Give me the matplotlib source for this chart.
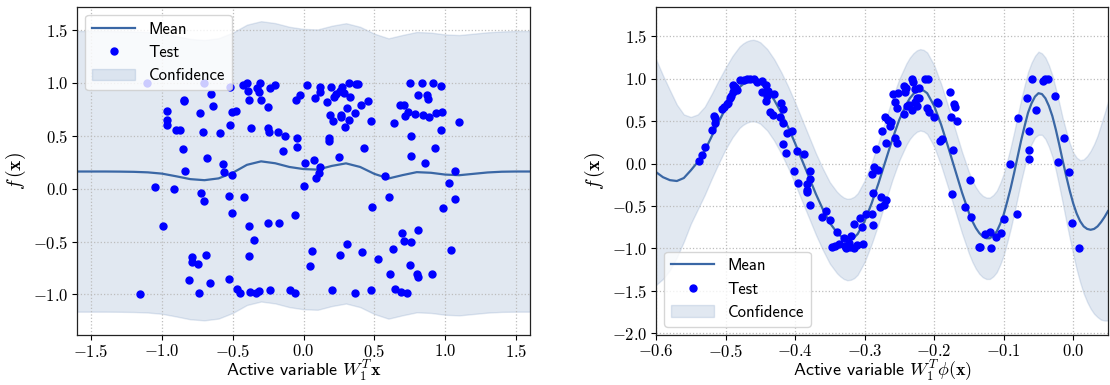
import numpy as np
import matplotlib
matplotlib.use('Agg')
import matplotlib.pyplot as plt
from matplotlib.ticker import FuncFormatter

plt.rcParams['mathtext.fontset'] = 'cm'
plt.rcParams['font.family'] = ['cmss10', 'DejaVu Sans']
plt.rcParams['axes.formatter.use_mathtext'] = True

# ===== left panel: GP on the raw active variable =====
x_left = [-1.6, -1.5, -1.4, -1.3, -1.2, -1.1, -1.0, -0.9, -0.8, -0.7, -0.6,
          -0.5, -0.4, -0.3, -0.2, -0.1, 0.0, 0.1, 0.2, 0.3, 0.4, 0.5, 0.6,
          0.7, 0.8, 0.9, 1.0, 1.1, 1.2, 1.3, 1.4, 1.5, 1.6]
mean_left = [0.162, 0.162, 0.162, 0.161, 0.159, 0.154, 0.142, 0.117, 0.090,
             0.080, 0.097, 0.150, 0.225, 0.258, 0.240, 0.205, 0.185, 0.180,
             0.215, 0.239, 0.205, 0.140, 0.096, 0.128, 0.156, 0.150, 0.133,
             0.127, 0.140, 0.153, 0.160, 0.162, 0.162]
upper_left = [1.490, 1.490, 1.490, 1.488, 1.486, 1.480, 1.467, 1.442, 1.415,
              1.405, 1.422, 1.475, 1.550, 1.583, 1.565, 1.530, 1.510, 1.505,
              1.540, 1.564, 1.530, 1.465, 1.421, 1.453, 1.481, 1.475, 1.458,
              1.452, 1.465, 1.478, 1.486, 1.490, 1.490]
lower_left = [-1.163, -1.163, -1.163, -1.164, -1.166, -1.171, -1.183, -1.208,
              -1.235, -1.245, -1.228, -1.175, -1.100, -1.067, -1.085, -1.120,
              -1.140, -1.145, -1.110, -1.086, -1.120, -1.185, -1.229, -1.197,
              -1.169, -1.175, -1.192, -1.198, -1.185, -1.172, -1.165, -1.163,
              -1.163]

test_x_left = [-1.154, -1.103, -1.047, -0.992, -0.966, -0.966, -0.961, -0.916,
               -0.903, -0.873, -0.850, -0.842, -0.842, -0.840, -0.810, -0.789,
               -0.789, -0.744, -0.736, -0.729, -0.723, -0.711, -0.700, -0.706,
               -0.688, -0.683, -0.660, -0.655, -0.643, -0.589, -0.567, -0.559,
               -0.529, -0.529, -0.521, -0.516, -0.506, -0.508, -0.503, -0.478,
               -0.470, -0.448, -0.428, -0.422, -0.402, -0.395, -0.385, -0.385,
               -0.382, -0.377, -0.370, -0.347, -0.336, -0.326, -0.316, -0.306,
               -0.314, -0.299, -0.250, -0.248, -0.253, -0.245, -0.240, -0.235,
               -0.202, -0.177, -0.172, -0.144, -0.134, -0.099, -0.061, -0.061,
               -0.056, -0.048, -0.048, -0.025, 0.000, 0.008, 0.025, 0.048,
               0.063, 0.073, 0.078, 0.086, 0.109, 0.114, 0.116, 0.119, 0.169,
               0.177, 0.180, 0.187, 0.195, 0.202, 0.210, 0.218, 0.230, 0.256,
               0.253, 0.258, 0.266, 0.268, 0.273, 0.286, 0.291, 0.304, 0.309,
               0.319, 0.324, 0.326, 0.364, 0.367, 0.374, 0.385, 0.407, 0.415,
               0.425, 0.458, 0.476, 0.478, 0.486, 0.529, 0.577, 0.602, 0.612,
               0.632, 0.637, 0.645, 0.678, 0.686, 0.693, 0.708, 0.713, 0.718,
               0.731, 0.741, 0.749, 0.749, 0.756, 0.759, 0.761, 0.787, 0.799,
               0.810, 0.812, 0.812, 0.840, 0.845, 0.855, 0.870, 0.878, 0.885,
               0.906, 0.916, 0.926, 0.933, 0.969, 0.974, 0.976, 0.984, 1.025,
               1.042, 1.068, 1.070, 1.098]
test_y_left = [-1.000, 1.000, 0.020, -0.353, 0.730, 0.650, 0.600, 0.000,
               0.556, 0.553, 0.378, 0.840, 0.825, 0.170, -0.866, -0.650,
               -0.694, -0.710, -0.990, 0.716, -0.040, 0.540, -0.116, 1.000,
               -0.628, 0.294, -0.890, 0.894, 0.780, 0.530, 0.230, 0.156,
               -0.856, -0.069, 0.606, 0.963, 0.131, 0.725, -0.234, 0.737,
               -0.947, -0.990, 0.984, -0.081, 1.000, 0.919, 0.840, -0.640,
               -0.350, -0.980, 0.575, -0.488, -0.984, 0.947, 0.916, 1.000,
               -0.972, 0.840, -0.328, 0.772, 0.575, 0.534, 0.953, -0.956,
               0.981, 0.531, -0.328, 0.359, 0.500, -0.956, -0.247, -0.987,
               0.840, 0.475, 0.397, 0.884, 0.025, 0.240, 0.981, -0.734,
               -0.594, 0.272, 0.853, 0.097, 0.147, 0.206, 0.916, 0.959, 0.816,
               0.450, 0.475, 0.697, 0.963, -0.956, 0.640, 0.869, 0.894, 0.922,
               0.300, -0.631, 0.694, 0.675, 0.959, 0.900, 0.584, -0.519, 0.759,
               0.653, 1.000, 0.869, -0.987, 0.713, 0.988, 0.988, 0.791, -0.597,
               0.384, 0.825, 0.644, -0.962, -0.175, -0.663, 0.119, -0.081,
               -0.806, -0.566, 0.625, -0.950, 0.788, -0.981, -0.422, -0.494,
               0.788, 0.684, -0.990, 0.722, 1.000, -0.719, -0.509, 0.306, 0.500,
               0.703, -0.806, -0.831, -0.388, 0.884, 1.000, 0.697, 0.244, 0.884,
               0.844, 0.678, -0.806, 1.000, 0.388, 0.716, 0.556, 0.975, 0.722,
               -0.187, 0.053, -0.584, 0.166, -0.100, 0.631]

# ===== right panel: GP on the kernel active variable =====
x_right = [-0.60, -0.59, -0.58, -0.57, -0.56, -0.55, -0.54, -0.53, -0.52,
           -0.51, -0.50, -0.49, -0.48, -0.475, -0.47, -0.465, -0.46, -0.455,
           -0.45, -0.44, -0.43, -0.42, -0.41, -0.40, -0.39, -0.38, -0.37,
           -0.36, -0.35, -0.34, -0.335, -0.33, -0.325, -0.32, -0.315, -0.31,
           -0.30, -0.29, -0.28, -0.27, -0.26, -0.25, -0.24, -0.235, -0.23,
           -0.225, -0.22, -0.215, -0.21, -0.20, -0.19, -0.18, -0.17, -0.16,
           -0.15, -0.145, -0.14, -0.135, -0.13, -0.125, -0.12, -0.115, -0.11,
           -0.105, -0.10, -0.095, -0.09, -0.085, -0.08, -0.075, -0.07, -0.065,
           -0.06, -0.055, -0.05, -0.045, -0.04, -0.035, -0.03, -0.025, -0.02,
           -0.015, -0.01, -0.005, 0.00, 0.005, 0.01, 0.015, 0.02, 0.025, 0.03,
           0.035, 0.04, 0.045, 0.05]
mean_right = [-0.10, -0.16, -0.195, -0.205, -0.17, -0.08, 0.02, 0.15, 0.32,
              0.49, 0.65, 0.79, 0.90, 0.935, 0.96, 0.975, 0.98, 0.97, 0.95,
              0.87, 0.75, 0.60, 0.43, 0.24, 0.04, -0.16, -0.36, -0.54, -0.70,
              -0.81, -0.85, -0.88, -0.895, -0.89, -0.87, -0.83, -0.68, -0.47,
              -0.23, 0.03, 0.29, 0.52, 0.70, 0.77, 0.82, 0.855, 0.87, 0.86,
              0.83, 0.68, 0.46, 0.20, -0.07, -0.34, -0.58, -0.68, -0.76, -0.82,
              -0.86, -0.88, -0.88, -0.85, -0.80, -0.71, -0.60, -0.45, -0.29,
              -0.11, 0.08, 0.27, 0.44, 0.60, 0.71, 0.79, 0.83, 0.82, 0.77, 0.68,
              0.56, 0.40, 0.22, 0.03, -0.15, -0.32, -0.47, -0.59, -0.68, -0.74,
              -0.77, -0.78, -0.77, -0.74, -0.69, -0.63, -0.56]
upper_right = [1.23, 1.04, 0.865, 0.695, 0.58, 0.55, 0.58, 0.67, 0.82, 0.98,
               1.13, 1.27, 1.38, 1.415, 1.44, 1.455, 1.46, 1.45, 1.43, 1.35,
               1.23, 1.08, 0.91, 0.72, 0.52, 0.32, 0.12, -0.06, -0.22, -0.33,
               -0.37, -0.40, -0.415, -0.41, -0.39, -0.35, -0.20, 0.01, 0.25,
               0.51, 0.77, 1.00, 1.18, 1.25, 1.30, 1.335, 1.35, 1.34, 1.31,
               1.16, 0.94, 0.68, 0.41, 0.14, -0.10, -0.20, -0.28, -0.34, -0.38,
               -0.40, -0.40, -0.37, -0.32, -0.23, -0.12, 0.03, 0.19, 0.37, 0.56,
               0.75, 0.92, 1.08, 1.19, 1.27, 1.32, 1.30, 1.25, 1.16, 1.04, 0.88,
               0.71, 0.53, 0.38, 0.24, 0.13, 0.07, 0.04, 0.05, 0.09, 0.15, 0.23,
               0.33, 0.46, 0.59, 0.73]
lower_right = [-1.43, -1.36, -1.255, -1.105, -0.92, -0.71, -0.54, -0.37, -0.18,
               0.00, 0.17, 0.31, 0.42, 0.455, 0.48, 0.495, 0.50, 0.49, 0.47,
               0.39, 0.27, 0.12, -0.05, -0.24, -0.44, -0.64, -0.84, -1.02,
               -1.18, -1.29, -1.33, -1.36, -1.375, -1.37, -1.35, -1.31, -1.16,
               -0.95, -0.71, -0.45, -0.19, 0.04, 0.22, 0.29, 0.34, 0.375, 0.39,
               0.38, 0.35, 0.20, -0.02, -0.28, -0.55, -0.82, -1.06, -1.16,
               -1.24, -1.30, -1.34, -1.36, -1.36, -1.33, -1.28, -1.19, -1.08,
               -0.93, -0.77, -0.59, -0.40, -0.21, -0.04, 0.12, 0.23, 0.31, 0.34,
               0.34, 0.29, 0.20, 0.08, -0.08, -0.27, -0.47, -0.68, -0.88, -1.07,
               -1.25, -1.40, -1.53, -1.63, -1.71, -1.77, -1.81, -1.84, -1.85,
               -1.85]

test_x_right = [-0.5387, -0.5336, -0.5290, -0.5200, -0.5147, -0.5150, -0.5160,
                -0.5050, -0.5026, -0.4985, -0.4960, -0.4934, -0.4919, -0.4898,
                -0.4893, -0.4883, -0.4858, -0.4837, -0.4791, -0.4740, -0.4690,
                -0.4650, -0.4593, -0.4550, -0.4480, -0.4480, -0.4420, -0.4415,
                -0.4410, -0.4385, -0.4360, -0.4320, -0.4300, -0.4206, -0.4180,
                -0.4170, -0.4217, -0.4176, -0.4130, -0.4120, -0.4050, -0.4013,
                -0.3978, -0.3960, -0.3876, -0.3835, -0.3835, -0.3825, -0.3790,
                -0.3790, -0.3780, -0.3617, -0.3555, -0.3494, -0.3470, -0.3430,
                -0.3400, -0.3367, -0.3296, -0.3286, -0.3265, -0.3230, -0.3200,
                -0.3210, -0.3150, -0.3154, -0.3110, -0.3060, -0.3037, -0.3020,
                -0.2976, -0.2900, -0.2874, -0.2889, -0.2874, -0.2859, -0.2833,
                -0.2803, -0.2780, -0.2760, -0.2752, -0.2721, -0.2696, -0.2696,
                -0.2700, -0.2670, -0.2630, -0.2620, -0.2594, -0.2570, -0.2564,
                -0.2538, -0.2528, -0.2518, -0.2440, -0.2440, -0.2416, -0.2410,
                -0.2386, -0.2360, -0.2325, -0.2314, -0.2304, -0.2274, -0.2274,
                -0.2253, -0.2243, -0.2213, -0.2213, -0.2136, -0.2085, -0.2110,
                -0.2075, -0.2000, -0.1953, -0.1938, -0.1918, -0.1892, -0.1775,
                -0.1765, -0.1745, -0.1734, -0.1720, -0.1694, -0.1668, -0.1551,
                -0.1480, -0.1470, -0.1358, -0.1338, -0.1267, -0.1190, -0.1185,
                -0.1104, -0.1038, -0.0997, -0.0916, -0.0814, -0.0788, -0.0671,
                -0.0630, -0.0630, -0.0630, -0.0590, -0.0529, -0.0432, -0.0402,
                -0.0366, -0.0264, -0.0224, -0.0132, -0.0066, -0.0020, 0.0076]
test_y_right = [0.027, 0.098, 0.200, 0.398, 0.473, 0.543, 0.559, 0.645, 0.664,
                0.699, 0.715, 0.770, 0.793, 0.840, 0.926, 0.887, 0.898, 0.871,
                0.984, 0.984, 0.992, 0.992, 1.000, 0.961, 0.969, 0.840, 0.926,
                0.738, 0.800, 0.855, 0.605, 0.574, 0.824, 0.715, 0.480, 0.645,
                0.547, 0.230, 0.129, 0.360, 0.383, -0.082, 0.148, -0.234, 0.117,
                -0.246, -0.332, -0.316, -0.082, -0.488, -0.176, -0.633, -0.563,
                -0.660, -0.980, -0.973, -0.809, -0.953, -0.879, -0.977, -1.000,
                -0.938, -0.855, -0.988, -1.000, -0.711, -0.961, -0.637, -0.742,
                -0.949, -0.598, -0.598, -0.723, -0.117, -0.348, -0.039, 0.168,
                -0.070, -0.512, -0.395, 0.379, -0.488, -0.430, 0.238, 0.551,
                0.512, 0.449, 0.488, 0.820, 0.723, 0.301, 0.652, 0.246, 0.828,
                0.582, 0.910, 0.840, 0.887, 0.684, 0.691, 0.633, 1.000, 0.965,
                0.879, 0.723, 0.777, 0.684, 0.895, 0.773, 0.996, 1.000, 0.656,
                0.605, 0.551, 0.723, 0.711, 0.262, 0.289, 0.840, 0.555, -0.359,
                0.156, 0.699, 0.672, 0.500, -0.516, -0.195, -0.625, -0.984,
                -0.988, -0.832, -0.809, -0.996, -0.871, -0.816, -0.656, 0.000,
                -0.590, 0.535, 0.777, 0.383, 0.160, 0.050, 1.000, 0.633, 0.977,
                0.992, 1.000, 0.793, 0.020, 0.305, -0.102, -0.700, -1.000]

line_c = '#3a67a5'
dot_c = '#0000ff'


def tick_fmt(v, pos):
    return r'$%.1f$' % v


def style(ax):
    ax.grid(True, ls=':', color='#bdbdbd', lw=0.9)
    for s in ax.spines.values():
        s.set_color('#222222')
        s.set_linewidth(0.9)
    ax.xaxis.set_major_formatter(FuncFormatter(tick_fmt))
    ax.yaxis.set_major_formatter(FuncFormatter(tick_fmt))
    ax.tick_params(labelsize=12, length=3.5, width=0.8, pad=2.5)


fig = plt.figure(figsize=(11.1, 3.85), dpi=100)
ax1 = fig.add_axes([0.0694, 0.1300, 0.4081, 0.8526])
ax2 = fig.add_axes([0.591, 0.1300, 0.4072, 0.8526])

# left
ax1.fill_between(x_left, lower_left, upper_left, color=line_c, alpha=0.15,
                 label='Confidence')
ax1.plot(x_left, mean_left, color=line_c, lw=1.6, label='Mean')
ax1.plot(test_x_left, test_y_left, 'o', color=dot_c, ms=5, label='Test')
ax1.set_xlim(-1.6, 1.6)
ax1.set_ylim(-1.383, 1.72)
ax1.set_xticks([-1.5, -1.0, -0.5, 0.0, 0.5, 1.0, 1.5])
ax1.set_yticks([-1.0, -0.5, 0.0, 0.5, 1.0, 1.5])
style(ax1)
ax1.set_xlabel(r'Active variable $W_1^T\mathbf{x}$', fontsize=13, labelpad=-1)
ax1.set_ylabel(r'$f\,(\mathbf{x})$', fontsize=14)
h, l = ax1.get_legend_handles_labels()
ax1.legend([h[1], h[2], h[0]], [l[1], l[2], l[0]], loc='upper left',
           fontsize=12, numpoints=1, framealpha=0.8, handlelength=2.6)

# right
ax2.fill_between(x_right, lower_right, upper_right, color=line_c, alpha=0.15,
                 label='Confidence')
ax2.plot(x_right, mean_right, color=line_c, lw=1.6, label='Mean')
ax2.plot(test_x_right, test_y_right, 'o', color=dot_c, ms=5, label='Test')
ax2.set_xlim(-0.6, 0.05)
ax2.set_ylim(-2.02, 1.85)
ax2.set_xticks([-0.6, -0.5, -0.4, -0.3, -0.2, -0.1, 0.0])
ax2.set_yticks([-2.0, -1.5, -1.0, -0.5, 0.0, 0.5, 1.0, 1.5])
style(ax2)
ax2.set_xlabel(r'Active variable $W_1^T\phi(\mathbf{x})$', fontsize=13,
               labelpad=-1)
ax2.set_ylabel(r'$f\,(\mathbf{x})$', fontsize=14)
h, l = ax2.get_legend_handles_labels()
ax2.legend([h[1], h[2], h[0]], [l[1], l[2], l[0]], loc='lower left',
           fontsize=12, numpoints=1, framealpha=0.8, handlelength=2.6)

plt.savefig('out.png', dpi=100)
